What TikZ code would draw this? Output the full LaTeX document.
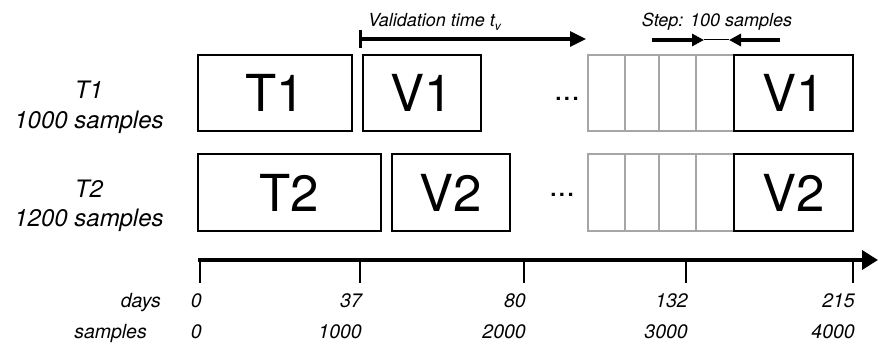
\documentclass[tikz,border=0pt]{standalone}
\usepackage{fontspec}
\setmainfont{TeX Gyre Heros}
\usetikzlibrary{arrows.meta}
\tikzset{
  blk/.style={draw=black, line width=1.6pt, inner sep=0pt,
    font=\fontsize{51}{51}\selectfont},
  ghost/.style={draw=black!35, line width=1.6pt},
  sidelbl/.style={anchor=base, inner sep=0pt,
    font=\fontsize{24}{29}\selectfont\itshape},
  ticklbl/.style={anchor=base east, inner sep=0pt,
    font=\fontsize{19.5}{22}\selectfont\itshape},
  notelbl/.style={inner sep=0pt, font=\fontsize{18}{21}\selectfont\itshape},
  dotslbl/.style={anchor=base, inner sep=0pt, font=\fontsize{31}{33}\selectfont},
  bigarrow/.style={line width=3.2pt, -{Triangle[length=16pt,width=15pt]}},
  steparrow/.style={line width=3.2pt, -{Triangle[length=12pt,width=12pt]}},
  tick/.style={line width=2.8pt},
}
\begin{document}
\begin{tikzpicture}[x=1pt,y=-1pt]
\useasboundingbox (0,0) rectangle (878,345);

% row labels
\node[sidelbl] (r1a) at (89,98) {T1};
\node[sidelbl] (r1b) at (89,128) {1000 samples};
\node[sidelbl] (r2a) at (89,197) {T2};
\node[sidelbl] (r2b) at (89,226) {1200 samples};

% row 1 windows
\node[blk, minimum width=154pt, minimum height=76pt] (t1) at (275,93) {T1};
\node[blk, minimum width=118pt, minimum height=76pt] (v1) at (422,93) {V1};
\node[dotslbl] (d1) at (567,100) {...};
\foreach \xa/\xb in {588/625, 625/659, 659/696, 696/734}
  \draw[ghost] (\xa,55) rectangle (\xb,131);
\node[blk, minimum width=119pt, minimum height=76pt] (v1b) at (793.5,93) {V1};

% row 2 windows
\node[blk, minimum width=183pt, minimum height=77pt] (t2) at (289.5,192.5) {T2};
\node[blk, minimum width=118pt, minimum height=77pt] (v2) at (451,192.5) {V2};
\node[dotslbl] (d2) at (562,196) {...};
\foreach \xa/\xb in {588/625, 625/659, 659/696, 696/734}
  \draw[ghost] (\xa,154) rectangle (\xb,231);
\node[blk, minimum width=119pt, minimum height=77pt] (v2b) at (793.5,192.5) {V2};

% validation time marker
\coordinate (vs) at (360,39);
\coordinate (ve) at (586,39);
\coordinate (vbt) at (360,30);
\coordinate (vbb) at (360,48);
\draw[line width=3pt] (vbt) -- (vbb);
\draw[bigarrow] (vs) -- (ve);
\node[notelbl, anchor=base west] (vlbl) at (368,27)
  {Validation time t\raisebox{-0.35ex}{\fontsize{12}{12}\selectfont v}};

% step marker
\coordinate (sl) at (652,40);
\coordinate (sa) at (704,40);
\coordinate (sb) at (729,40);
\coordinate (sr) at (780,40);
\draw[steparrow] (sl) -- (sa);
\draw[line width=1pt] (sa) -- (sb);
\draw[steparrow] (sr) -- (sb);
\node[notelbl, anchor=base] (slbl) at (717,27) {Step: 100 samples};

% time axis
\coordinate (ax0) at (198,260);
\coordinate (ax1) at (878,260);
\draw[line width=3.6pt, -{Triangle[length=16pt,width=19pt]}] (ax0) -- (ax1);
\foreach \x/\d/\s [count=\i] in {200/0/0, 360/37/1000, 524/80/2000, 686/132/3000, 853/215/4000} {
  \draw[tick] (\x,260) -- (\x,283);
  \node[ticklbl] (day\i) at (\x+2,307) {\d};
  \node[ticklbl] (smp\i) at (\x+2,338) {\s};
}
\node[ticklbl] (dayslbl) at (161,307) {days};
\node[ticklbl] (smplbl) at (147,338) {samples};
\end{tikzpicture}
\end{document}
